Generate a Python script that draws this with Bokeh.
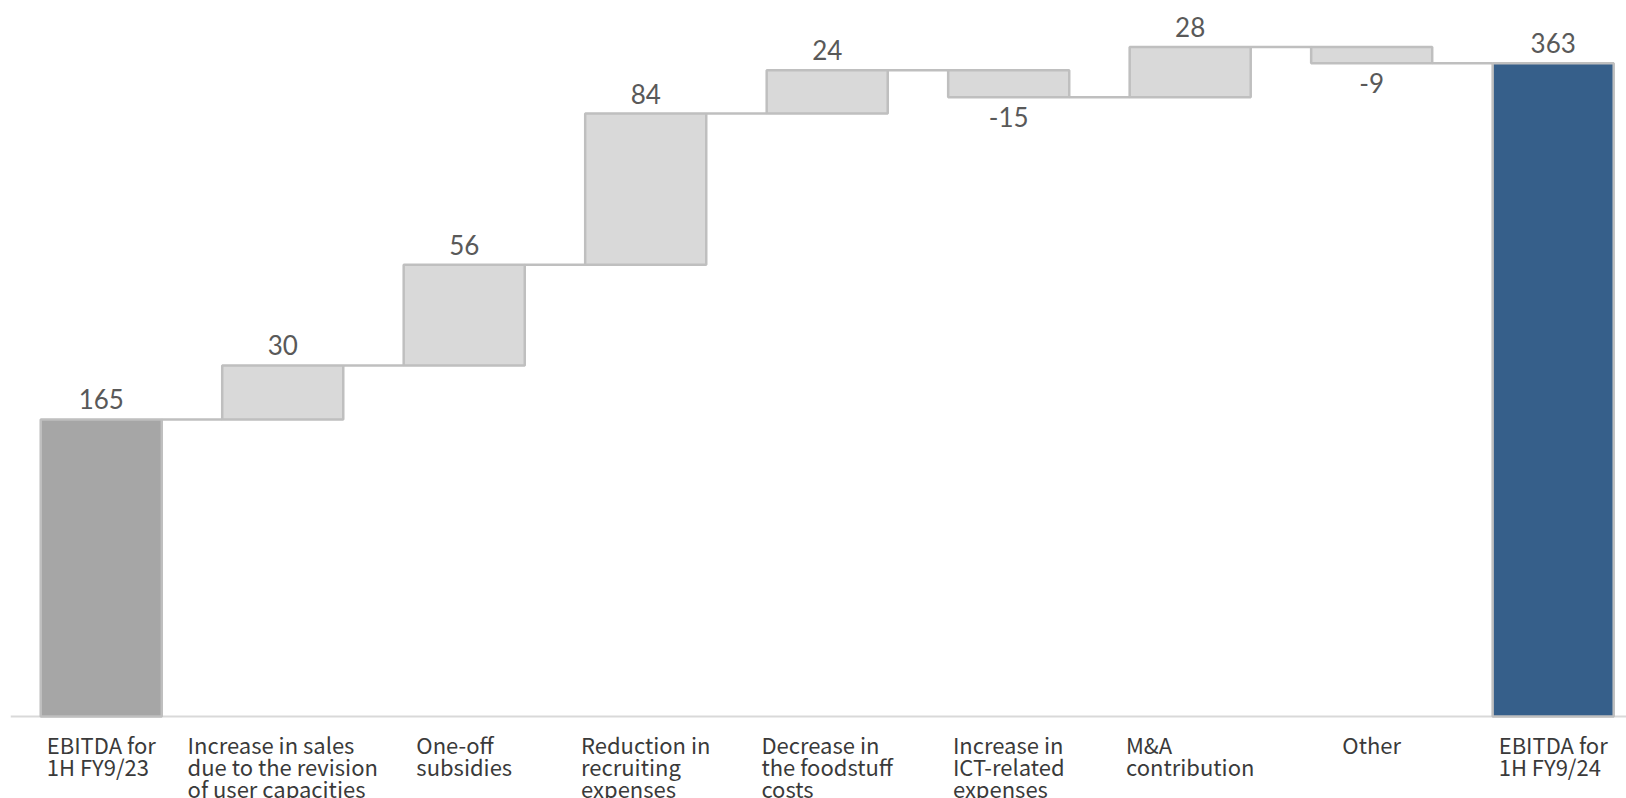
from bokeh.plotting import figure
from bokeh.models import Range1d, ColumnDataSource
from bokeh.embed import file_html
from bokeh.resources import INLINE
from bokeh.core.properties import value

# ---- data ----
categories = [
    "EBITDA for\n1H FY9/23",
    "Increase in sales\ndue to the revision\nof user capacities",
    "One-off\nsubsidies",
    "Reduction in\nrecruiting\nexpenses",
    "Decrease in\nthe foodstuff\ncosts",
    "Increase in\nICT-related\nexpenses",
    "M&A\ncontribution",
    "Other",
    "EBITDA for\n1H FY9/24",
]
values = [165, 30, 56, 84, 24, -15, 28, -9, 363]
kinds = ["start", "delta", "delta", "delta", "delta", "delta", "delta", "delta", "end"]

# ---- waterfall geometry derived from data ----
colors = {"start": "#a6a6a6", "delta": "#d9d9d9", "end": "#365f8a"}
xs, bottoms, tops, fills = [], [], [], []
lab_y, lab_base, lab_off = [], [], []
levels = []
running = 0
for i, (v, k) in enumerate(zip(values, kinds)):
    xs.append(i)
    if k in ("start", "end"):
        b, t = 0, v
        running = v
    else:
        b, t = (running, running + v) if v >= 0 else (running + v, running)
        running += v
    bottoms.append(b)
    tops.append(t)
    fills.append(colors[k])
    levels.append(running)
    if v >= 0:
        lab_y.append(t); lab_base.append("bottom"); lab_off.append(-10)
    else:
        lab_y.append(b); lab_base.append("top"); lab_off.append(10)

bar_w = 0.667
src = ColumnDataSource(dict(x=xs, bottom=bottoms, top=tops, fill=fills,
                            ly=lab_y, lb=lab_base, lo=lab_off,
                            txt=[str(v) for v in values], cat=categories,
                            zero=[0] * len(xs)))

p = figure(width=1626, height=798, output_backend="svg", toolbar_location=None,
           x_range=Range1d(-0.5, 8.404), y_range=Range1d(-45.6, 397.8),
           min_border_left=10, min_border_right=0, min_border_top=0, min_border_bottom=0)
p.axis.visible = False
p.grid.visible = False
p.outline_line_color = None
p.background_fill_color = "white"
p.border_fill_color = "white"

# baseline
p.segment(x0=[-0.5], y0=[0], x1=[8.404], y1=[0], line_color="#d9d9d9", line_width=2)

# connectors
cx0 = [i + bar_w / 2 for i in range(len(xs) - 1)]
cx1 = [i + 1 - bar_w / 2 for i in range(len(xs) - 1)]
p.segment(x0=cx0, y0=levels[:-1], x1=cx1, y1=levels[:-1], line_color="#bfbfbf", line_width=2.5)

# bars
p.vbar(x="x", bottom="bottom", top="top", width=bar_w, source=src,
       fill_color="fill", line_color="#bfbfbf", line_width=2.5)

# value labels
p.text(x="x", y="ly", text="txt", source=src, text_align="center", text_baseline="lb",
       y_offset="lo", text_font=value("Lato"), text_font_size="26px", text_color="#595959")

# category labels
p.text(x="x", y="zero", text="cat", source=src, anchor=value("top_center"), text_align="left",
       y_offset=12, text_font=value("Noto Sans CJK JP"), text_font_size="22px",
       text_color="#3a3a3a", text_line_height=0.68)

open("out.html", "w").write(file_html(p, INLINE))
